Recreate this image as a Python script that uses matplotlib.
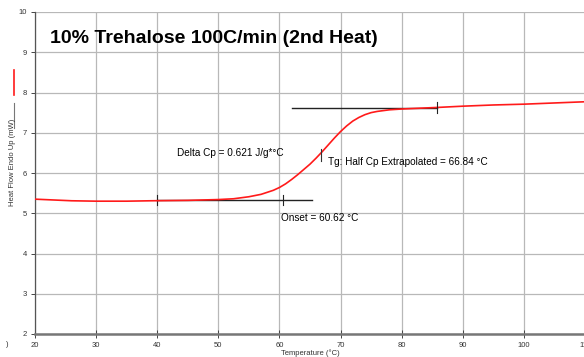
import numpy as np
import matplotlib
matplotlib.use('Agg')
import matplotlib.pyplot as plt
from matplotlib.lines import Line2D

plt.rcParams['font.family'] = ['Liberation Sans', 'DejaVu Sans']

# heat flow curve
temperature = [20, 23, 26, 30, 35, 39, 45, 50, 52.5, 55, 56, 57, 58, 59, 60, 61,
               62, 63, 64, 65, 66, 67, 68, 69, 70, 71, 72, 73, 74, 75, 76, 78,
               80, 83, 86, 90, 95, 100, 105, 110]
heat_flow = [5.35, 5.33, 5.31, 5.30, 5.30, 5.31, 5.32, 5.34, 5.36, 5.41, 5.44, 5.47,
             5.52, 5.57, 5.64, 5.73, 5.84, 5.96, 6.09, 6.22, 6.37, 6.53, 6.70, 6.87,
             7.03, 7.17, 7.29, 7.38, 7.45, 7.50, 7.53, 7.57, 7.59, 7.61, 7.63, 7.66,
             7.69, 7.71, 7.74, 7.77]

# tangent lines from the analysis
baseline_x = [40, 65.4]
baseline_y = [5.33, 5.33]
upper_x = [62, 85.7]
upper_y = [7.62, 7.62]
baseline_marks = [40, 60.62]
tg_mark = (66.84, 6.45)
upper_mark = (85.7, 7.62)

x_ticks = [20, 30, 40, 50, 60, 70, 80, 90, 100, 110]
y_ticks = [2, 3, 4, 5, 6, 7, 8, 9, 10]

fig = plt.figure(figsize=(5.84, 3.57), dpi=100)
ax = fig.add_axes([35 / 584, 23 / 357, 550 / 584, 322 / 357])

ax.set_xlim(20, 110)
ax.set_ylim(2, 10)
ax.set_xticks(x_ticks)
ax.set_yticks(y_ticks)
ax.grid(True, color='#b8b8b8', linewidth=0.9)
ax.set_axisbelow(True)

for s in ['top', 'right']:
    ax.spines[s].set_visible(False)
ax.spines['left'].set_color('#555555')
ax.spines['left'].set_linewidth(0.9)
ax.spines['bottom'].set_color('#777777')
ax.spines['bottom'].set_linewidth(1.8)

ax.tick_params(axis='both', labelsize=5.5, labelcolor='#333333', color='#444444',
               length=3, width=0.7, pad=3)
ax.tick_params(axis='x', direction='inout', length=6, pad=2.5)

# tangents
ax.plot(baseline_x, baseline_y, color='#222222', linewidth=1.0, zorder=3)
ax.plot(upper_x, upper_y, color='#222222', linewidth=1.0, zorder=3)
for xm in baseline_marks:
    ax.plot([xm, xm], [5.21, 5.45], color='#222222', linewidth=0.8, zorder=3)
ax.plot([upper_mark[0]] * 2, [upper_mark[1] - 0.14, upper_mark[1] + 0.14],
        color='#222222', linewidth=0.8, zorder=4)

# trace
ax.plot(temperature, heat_flow, color='#ff1a1a', linewidth=1.2, zorder=3.5)
ax.plot([tg_mark[0]] * 2, [tg_mark[1] - 0.15, tg_mark[1] + 0.15],
        color='#333333', linewidth=0.8, zorder=4)

# annotations
ax.text(22.5, 9.33, '10% Trehalose 100C/min (2nd Heat)', fontsize=14,
        fontweight='bold', va='center', ha='left')
ax.text(43.2, 6.5, 'Delta Cp = 0.621 J/g*°C', fontsize=7.2, va='center')
ax.text(67.9, 6.27, 'Tg: Half Cp Extrapolated = 66.84 °C', fontsize=7.2, va='center')
ax.text(60.2, 4.88, 'Onset = 60.62 °C', fontsize=7.2, va='center')

fig.text(310 / 584, 1 - 349 / 357, 'Temperature (°C)', fontsize=5.5, ha='center',
         va='top', color='#333333')
fig.text(13 / 584, 1 - 162 / 357, 'Heat Flow Endo Up (mW)', fontsize=5.5,
         rotation=90, ha='center', va='center', color='#333333')
fig.text(7 / 584, 1 - 345 / 357, ')', fontsize=5.5, ha='center', va='center',
         color='#333333')

# series key on the left
fig.add_artist(Line2D([14 / 584] * 2, [1 - 70 / 357, 1 - 95 / 357],
                      color='#ff1a1a', linewidth=1.2))
fig.add_artist(Line2D([14 / 584] * 2, [1 - 103 / 357, 1 - 128 / 357],
                      color='#777777', linewidth=0.8))

fig.savefig('out.png', dpi=100)
